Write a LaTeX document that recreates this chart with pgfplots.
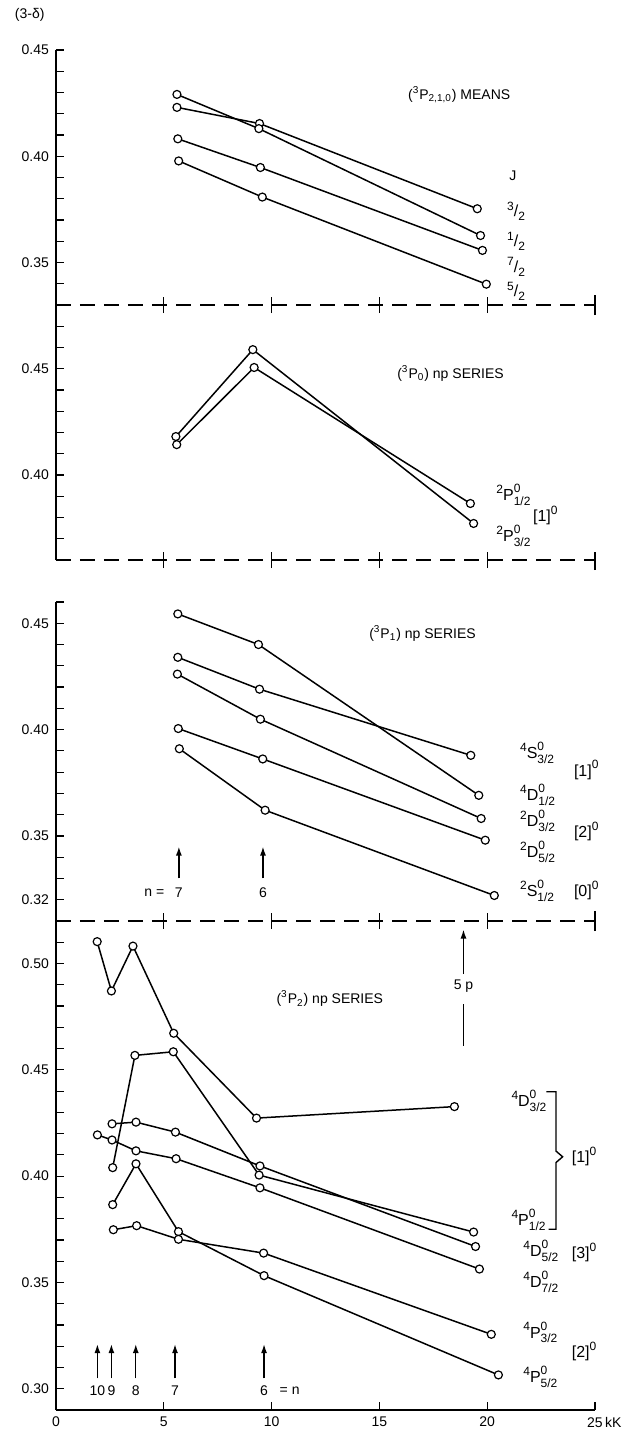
\documentclass[border=0pt]{standalone}
\usepackage{fontspec}
\setmainfont{Liberation Sans}
\usepackage{pgfplots}
\pgfplotsset{compat=1.18}
\usetikzlibrary{arrows.meta}

\newcommand\sm{\fontsize{6}{6}\selectfont}
\newcommand\lb{\fontsize{8}{9}\selectfont}
\newcommand{\term}[3]{{\lb\raisebox{0.45em}{\sm #1}#2\rlap{\raisebox{0.5em}{\sm 0}}\raisebox{-0.3em}{\sm #3}}}
\newcommand{\fr}[2]{{\lb\raisebox{0.4em}{\sm #1}/\raisebox{-0.25em}{\sm #2}}}
\newcommand{\br}[1]{{\lb[#1]\raisebox{0.45em}{\sm 0}}}

\pgfplotsset{
 panel/.style={scale only axis, width=269.5pt, xmin=0, xmax=25, clip=false,
  axis y line*=left, axis x line*=bottom,
  axis line style={line width=0.7pt, -},
  tick style={black, line width=0.6pt},
  ytick align=inside, major tick length=4pt, minor tick length=4pt,
  tick label style={font=\fontsize{7}{8}\selectfont},
  yticklabel style={/pgf/number format/.cd, fixed, fixed zerofill, precision=2, assume math mode=true},
  font=\fontsize{7}{8}\selectfont,
  every node/.append style={inner sep=0.3pt},
 },
 dashpanel/.style={panel, x axis line style={dash pattern=on 7.5pt off 4.5pt}, xtick=\empty},
 pl/.style={black, solid, line width=0.75pt, mark=*, mark size=2pt,
     mark options={fill=white, draw=black, solid, line width=0.6pt}},
}
\tikzset{arr/.style={-{Latex[length=4.5pt,width=3pt]}, line width=0.7pt},
  tk/.style={line width=0.6pt, solid, black}}

\begin{document}
\begin{tikzpicture}
\useasboundingbox (-28pt,0pt) rectangle (285pt,-715.5pt);

% ---------- Panel 1 : (3P210) means
\begin{axis}[dashpanel, at={(0pt,-25pt)}, anchor=north west, height=127.5pt,
  ymin=0.33, ymax=0.45, ytick={0.35,0.40,0.45},
  minor ytick={0.34,0.36,0.37,0.38,0.39,0.41,0.42,0.43,0.44}]
\addplot[pl] coordinates {(5.61,0.4230) (9.44,0.4154) (19.54,0.3753)};
\addplot[pl] coordinates {(5.61,0.4291) (9.41,0.4130) (19.69,0.3627)};
\addplot[pl] coordinates {(5.65,0.4082) (9.48,0.3947) (19.78,0.3557)};
\addplot[pl] coordinates {(5.69,0.3978) (9.57,0.3808) (19.96,0.3398)};
\pgfplotsinvokeforeach{5,10,15,20}{\draw[tk] ([yshift=-4pt]axis cs:#1,0.33) -- ([yshift=4pt]axis cs:#1,0.33);}
\draw[tk] ([yshift=-5pt]axis cs:25,0.33) -- ([yshift=5pt]axis cs:25,0.33);
\node[anchor=west] at (axis cs:-2.23,0.4665) {(3-δ)};
\node at (axis cs:18.7,0.429) {(\textsuperscript{3}P\textsubscript{2,1,0}) MEANS};
\node[anchor=west] at (axis cs:20.7,0.391) {J};
\node[anchor=west] at (axis cs:20.6,0.374) {\fr{3}{2}};
\node[anchor=west] at (axis cs:20.6,0.360) {\fr{1}{2}};
\node[anchor=west] at (axis cs:20.6,0.348) {\fr{7}{2}};
\node[anchor=west] at (axis cs:20.6,0.3365) {\fr{5}{2}};
\end{axis}

% ---------- Panel 2 : (3P0) np series
\begin{axis}[dashpanel, at={(0pt,-152.5pt)}, anchor=north west, height=127.5pt,
  ymin=0.36, ymax=0.48, ytick={0.40,0.45},
  minor ytick={0.37,0.38,0.39,0.41,0.42,0.43,0.44,0.46,0.47}]
\addplot[pl] coordinates {(5.56,0.4181) (9.13,0.4590) (19.37,0.3772)};
\addplot[pl] coordinates {(5.60,0.4143) (9.19,0.4506) (19.22,0.3866)};
\pgfplotsinvokeforeach{5,10,15,20}{\draw[tk] ([yshift=-4pt]axis cs:#1,0.36) -- ([yshift=4pt]axis cs:#1,0.36);}
\draw[tk] ([yshift=-5pt]axis cs:25,0.36) -- ([yshift=4pt]axis cs:25,0.36);
\node at (axis cs:18.3,0.448) {(\textsuperscript{3}P\textsubscript{0}) np SERIES};
\node[anchor=west] at (axis cs:20.1,0.3905) {\term{2}{P}{1/2}};
\node[anchor=west] at (axis cs:21.8,0.381) {\br{1}};
\node[anchor=west] at (axis cs:20.1,0.3715) {\term{2}{P}{3/2}};
\end{axis}

% ---------- Panel 3 : (3P1) np series
\begin{axis}[dashpanel, at={(0pt,-301pt)}, anchor=north west, height=159.5pt,
  ymin=0.31, ymax=0.46, ytick={0.32,0.35,0.40,0.45},
  minor ytick={0.33,0.34,0.36,0.37,0.38,0.39,0.41,0.42,0.43,0.44,0.46}]
\addplot[pl] coordinates {(5.65,0.4340) (9.44,0.4190) (19.24,0.3879)};
\addplot[pl] coordinates {(5.65,0.4544) (9.39,0.4400) (19.61,0.3691)};
\addplot[pl] coordinates {(5.63,0.4261) (9.48,0.4049) (19.72,0.3582)};
\addplot[pl] coordinates {(5.67,0.4005) (9.59,0.3862) (19.91,0.3480)};
\addplot[pl] coordinates {(5.72,0.3910) (9.70,0.3621) (20.33,0.3220)};
\pgfplotsinvokeforeach{5,10,15,20}{\draw[tk] ([yshift=-4pt]axis cs:#1,0.31) -- ([yshift=4pt]axis cs:#1,0.31);}
\draw[tk] ([yshift=-5pt]axis cs:25,0.31) -- ([yshift=5pt]axis cs:25,0.31);
\node at (axis cs:17.0,0.4453) {(\textsuperscript{3}P\textsubscript{1}) np SERIES};
\node[anchor=west] at (axis cs:21.2,0.389) {\term{4}{S}{3/2}};
\node[anchor=west] at (axis cs:23.7,0.381) {\br{1}};
\node[anchor=west] at (axis cs:21.2,0.3695) {\term{4}{D}{1/2}};
\node[anchor=west] at (axis cs:21.2,0.357) {\term{2}{D}{3/2}};
\node[anchor=west] at (axis cs:23.7,0.352) {\br{2}};
\node[anchor=west] at (axis cs:21.2,0.3425) {\term{2}{D}{5/2}};
\node[anchor=west] at (axis cs:21.2,0.3240) {\term{2}{S}{1/2}};
\node[anchor=west] at (axis cs:23.7,0.3245) {\br{0}};
\draw[arr] (axis cs:5.7,0.330) -- (axis cs:5.7,0.345);
\draw[arr] (axis cs:9.6,0.330) -- (axis cs:9.6,0.345);
\node at (axis cs:5.7,0.3235) {7};
\node[anchor=east] at (axis cs:5.35,0.3235) {n =};
\node at (axis cs:9.6,0.3235) {6};
\end{axis}

% ---------- Panel 4 : (3P2) np series
\begin{axis}[panel, at={(0pt,-460.5pt)}, anchor=north west, height=244.5pt,
  ymin=0.29, ymax=0.52, ytick={0.30,0.35,0.40,0.45,0.50},
  minor ytick={0.31,0.32,0.33,0.34,0.36,0.37,0.38,0.39,0.41,0.42,0.43,0.44,0.46,0.47,0.48,0.49,0.51},
  xtick={0,5,10,15,20,25}, xticklabels={0,5,10,15,20,{25\rlap{\,kK}}},
  xtick style={draw=none}, x axis line style={solid}]
\addplot[pl] coordinates {(1.91,0.5103) (2.57,0.4871) (3.57,0.5082) (5.46,0.4672) (9.30,0.4273) (18.48,0.4327)};
\addplot[pl] coordinates {(2.63,0.4040) (3.66,0.4568) (5.44,0.4585) (9.42,0.4005) (19.37,0.3737)};
\addplot[pl] coordinates {(2.60,0.4246) (3.71,0.4254) (5.54,0.4207) (9.46,0.4048) (19.46,0.3669)};
\addplot[pl] coordinates {(1.92,0.4194) (2.60,0.4170) (3.71,0.4119) (5.57,0.4082) (9.46,0.3945) (19.64,0.3563)};
\addplot[pl] coordinates {(2.63,0.3866) (3.71,0.4058) (5.68,0.3739) (9.65,0.3532) (20.52,0.3065)};
\addplot[pl] coordinates {(2.66,0.3748) (3.74,0.3767) (5.68,0.3703) (9.63,0.3638) (20.19,0.3256)};
\pgfplotsinvokeforeach{5,10,15,20,25}{\draw[tk] (axis cs:#1,0.29) -- ([yshift=4pt]axis cs:#1,0.29);}
\node at (axis cs:12.7,0.4834) {(\textsuperscript{3}P\textsubscript{2}) np SERIES};
\draw[line width=0.7pt] (axis cs:18.9,0.4614) -- (axis cs:18.9,0.4810);
\node at (axis cs:18.9,0.4895) {5 p};
\draw[arr] (axis cs:18.9,0.4950) -- (axis cs:18.9,0.5160);
\node[anchor=west] at (axis cs:20.8,0.4353) {\term{4}{D}{3/2}};
\node[anchor=west] at (axis cs:20.8,0.3795) {\term{4}{P}{1/2}};
\draw[line width=0.7pt] (axis cs:22.75,0.4397) -- (axis cs:23.19,0.4397) -- (axis cs:23.19,0.4118)
  -- (axis cs:23.5,0.4091) -- (axis cs:23.19,0.4064) -- (axis cs:23.19,0.3750) -- (axis cs:22.85,0.3750);
\node[anchor=west] at (axis cs:23.6,0.4091) {\br{1}};
\node[anchor=west] at (axis cs:21.35,0.3650) {\term{4}{D}{5/2}};
\node[anchor=west] at (axis cs:23.6,0.3640) {\br{3}};
\node[anchor=west] at (axis cs:21.35,0.3503) {\term{4}{D}{7/2}};
\node[anchor=west] at (axis cs:21.35,0.3265) {\term{4}{P}{3/2}};
\node[anchor=west] at (axis cs:23.6,0.3174) {\br{2}};
\node[anchor=west] at (axis cs:21.35,0.3057) {\term{4}{P}{5/2}};
\draw[arr] (axis cs:1.92,0.3049) -- (axis cs:1.92,0.3210);
\draw[arr] (axis cs:2.57,0.3049) -- (axis cs:2.57,0.3210);
\draw[arr] (axis cs:3.70,0.3049) -- (axis cs:3.70,0.3210);
\draw[arr] (axis cs:5.52,0.3049) -- (axis cs:5.52,0.3210);
\draw[arr] (axis cs:9.65,0.3049) -- (axis cs:9.65,0.3210);
\node at (axis cs:1.92,0.2989) {10};
\node at (axis cs:2.57,0.2989) {9};
\node at (axis cs:3.70,0.2989) {8};
\node at (axis cs:5.52,0.2989) {7};
\node at (axis cs:9.65,0.2989) {6};
\node[anchor=west] at (axis cs:10.05,0.2989) {= n};
\end{axis}
\end{tikzpicture}
\end{document}
